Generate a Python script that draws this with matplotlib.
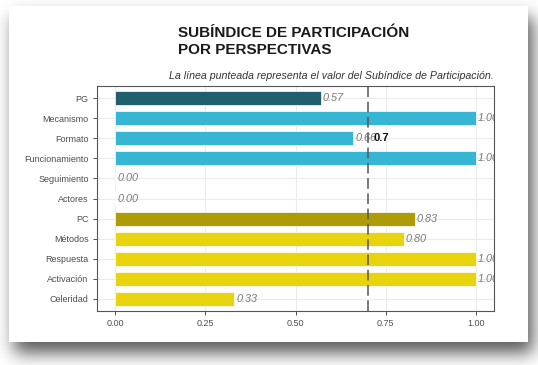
import numpy as np
import matplotlib.pyplot as plt

plt.rcParams['font.family'] = ['Liberation Sans', 'DejaVu Sans']

categorias = ['PG', 'Mecanismo', 'Formato', 'Funcionamiento', 'Seguimiento', 'Actores',
              'PC', 'Métodos', 'Respuesta', 'Activación', 'Celeridad']
valores = [0.57, 1.00, 0.66, 1.00, 0.00, 0.00, 0.83, 0.80, 1.00, 1.00, 0.33]
colores = ['#1f5f6e', '#37b6d4', '#37b6d4', '#37b6d4', '#37b6d4', '#37b6d4',
           '#ad9c08', '#e8d30f', '#e8d30f', '#e8d30f', '#e8d30f']
subindice = 0.7
x_ticks = [0.0, 0.25, 0.5, 0.75, 1.0]

W, H = 538, 365
fig = plt.figure(figsize=(W / 100, H / 100), dpi=100)
fig.patch.set_facecolor('white')

# sombra de la tarjeta (desenfoque gaussiano simple)
x0, y0, x1, y1 = 9, 6, 528, 342
pad = 60
mask = np.zeros((H + 2 * pad, W + 2 * pad))
dx, dy = 5, 11
mask[y0 + dy + pad:y1 + dy + pad, x0 + dx + pad:x1 + dx + pad] = 1.0
k = np.arange(-30, 31)
kern = np.exp(-k ** 2 / (2 * 8.5 ** 2))
kern /= kern.sum()
mask = np.apply_along_axis(lambda r: np.convolve(r, kern, mode='same'), 1, mask)
mask = np.apply_along_axis(lambda c: np.convolve(c, kern, mode='same'), 0, mask)
mask = mask[pad:pad + H, pad:pad + W]
gris = 1 - 0.65 * mask
img = np.dstack([gris, gris, gris])

bg = fig.add_axes([0, 0, 1, 1])
bg.imshow(img, extent=(0, W, H, 0), interpolation='bilinear')
bg.add_patch(plt.Rectangle((x0, y0), x1 - x0, y1 - y0, fc='white', ec='none'))
bg.set_xlim(0, W)
bg.set_ylim(H, 0)
bg.axis('off')

ax = fig.add_axes([97 / W, 1 - 311 / H, (494 - 97) / W, (311 - 86) / H])
y = list(range(len(categorias)))
ax.barh(y, valores, height=0.7, color=colores, edgecolor='white', linewidth=0.5, zorder=2)
for yi, v in zip(y, valores):
    ax.text(v + 0.006, yi, '%.2f' % v, ha='left', va='center', fontsize=7.8,
            style='italic', color='#7a7a7a', clip_on=True, zorder=3)

ax.axvline(subindice, color='#555555', lw=1.1, ls=(0, (7, 3)), zorder=4)
ax.text(subindice + 0.017, 2, str(subindice), ha='left', va='center', fontsize=8,
        fontweight='bold', color='#111111', zorder=5)

ax.set_xlim(-0.05, 1.05)
ax.set_ylim(len(categorias) - 0.4, -0.6)
ax.set_yticks(y)
ax.set_yticklabels(categorias)
ax.set_xticks(x_ticks)
ax.set_xticklabels(['%.2f' % t for t in x_ticks])
ax.tick_params(labelsize=6.5, colors='#4d4d4d', length=3, width=0.6, pad=3)
ax.tick_params(axis='both', color='#333333')
ax.grid(True, color='#ebebeb', lw=0.8, zorder=0)
ax.set_axisbelow(True)
for s in ax.spines.values():
    s.set_color('#555555')
    s.set_linewidth(0.8)

fig.text(178 / W, 1 - 41.5 / H, 'SUBÍNDICE DE PARTICIPACIÓN\nPOR PERSPECTIVAS',
         ha='left', va='center', fontsize=11, fontweight='bold', color='#1a1a1a',
         linespacing=1.2)
fig.text(494 / W, 1 - 76 / H, 'La línea punteada representa el valor del Subíndice de Participación.',
         ha='right', va='center', fontsize=7.7, style='italic', color='#333333')

fig.savefig('out.png', dpi=100)
